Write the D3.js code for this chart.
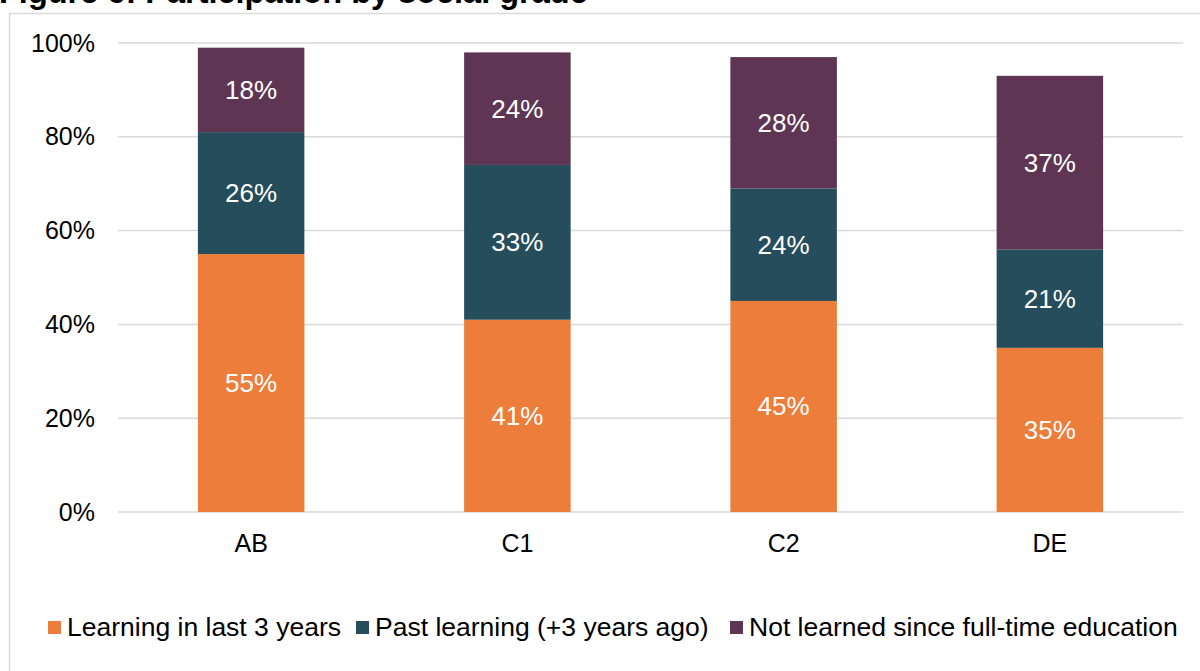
<!DOCTYPE html>
<html>
<head>
<meta charset="utf-8">
<script src="https://cdn.jsdelivr.net/npm/d3@7"></script>
<style>
  body { margin: 0; background: #fff; overflow: hidden; }
  text { font-family: "Liberation Sans", Arial, sans-serif; }
</style>
</head>
<body>
<script>
// data
var grades = ["AB", "C1", "C2", "DE"];
var seriesNames = ["Learning in last 3 years", "Past learning (+3 years ago)", "Not learned since full-time education"];
var recent = [55, 41, 45, 35];
var past = [26, 33, 24, 21];
var never = [18, 24, 28, 37];
var yTicks = [0, 20, 40, 60, 80, 100];
var colors = ["#ED7D3A", "#264D5B", "#5E3654"];

var W = 1200, H = 671;
var svg = d3.select("body").append("svg")
    .attr("width", W)
    .attr("height", H);

// chart frame (runs off the window edge)
svg.append("rect")
    .attr("x", 9.5).attr("y", 13.5)
    .attr("width", 1300).attr("height", 800)
    .attr("fill", "none")
    .attr("stroke", "#d9d9d9")
    .attr("stroke-width", 1.5);

// title, cropped at top like the source
svg.append("text")
    .attr("x", -1).attr("y", 3)
    .attr("font-size", "32.5px")
    .attr("font-weight", "bold")
    .attr("fill", "#000")
    .text("Figure 6: Participation by social grade");

var x = d3.scaleBand()
    .domain(grades)
    .range([118, 1183])
    .paddingInner(0.6)
    .paddingOuter(0.3);

var y = d3.scaleLinear()
    .domain([0, 100])
    .range([512, 43]);

// gridlines
svg.append("g").selectAll("line")
    .data(yTicks)
    .enter().append("line")
    .attr("x1", 118).attr("x2", 1183)
    .attr("y1", function(d) { return y(d); })
    .attr("y2", function(d) { return y(d); })
    .attr("stroke", "#d9d9d9")
    .attr("stroke-width", 1.5);

// y axis labels
var yAxis = d3.axisLeft(y)
    .tickValues(yTicks)
    .tickSize(0)
    .tickPadding(0)
    .tickFormat(function(d) { return d + "%"; });
var gy = svg.append("g")
    .attr("transform", "translate(95,0)")
    .call(yAxis);
gy.select(".domain").remove();
gy.selectAll("text")
    .attr("font-size", "25px")
    .attr("fill", "#000")
    .style("font-family", "'Liberation Sans', Arial, sans-serif");

// x axis labels
var xAxis = d3.axisBottom(x).tickSize(0).tickPadding(0);
var gx = svg.append("g")
    .attr("transform", "translate(0,534)")
    .call(xAxis);
gx.select(".domain").remove();
gx.selectAll("text")
    .attr("font-size", "25px")
    .attr("fill", "#000")
    .style("font-family", "'Liberation Sans', Arial, sans-serif");

// stack the series
var rows = grades.map(function(g, i) {
  return { grade: g, s0: recent[i], s1: past[i], s2: never[i] };
});
var stack = d3.stack().keys(["s0", "s1", "s2"]);
var layers = stack(rows);

var layer = svg.selectAll(".layer")
    .data(layers)
    .enter().append("g")
    .attr("class", "layer")
    .attr("fill", function(d, i) { return colors[i]; });

layer.selectAll("rect")
    .data(function(d) { return d; })
    .enter().append("rect")
    .attr("x", function(d) { return x(d.data.grade); })
    .attr("y", function(d) { return y(d[1]); })
    .attr("width", x.bandwidth())
    .attr("height", function(d) { return y(d[0]) - y(d[1]); });

// value labels in the middle of each segment
layer.selectAll("text")
    .data(function(d) { return d; })
    .enter().append("text")
    .attr("x", function(d) { return x(d.data.grade) + x.bandwidth() / 2; })
    .attr("y", function(d) { return (y(d[0]) + y(d[1])) / 2 + 9; })
    .attr("text-anchor", "middle")
    .attr("font-size", "26px")
    .attr("fill", "#fff")
    .text(function(d) { return (d[1] - d[0]) + "%"; });

// legend
var legendX = [48, 356, 730];
var legend = svg.append("g").selectAll("g")
    .data(seriesNames)
    .enter().append("g")
    .attr("transform", function(d, i) { return "translate(" + legendX[i] + ",621)"; });
legend.append("rect")
    .attr("width", 13).attr("height", 13)
    .attr("fill", function(d, i) { return colors[i]; });
legend.append("text")
    .attr("x", 19).attr("y", 15)
    .attr("font-size", "26.5px")
    .attr("fill", "#000")
    .text(function(d) { return d; });
</script>
</body>
</html>
